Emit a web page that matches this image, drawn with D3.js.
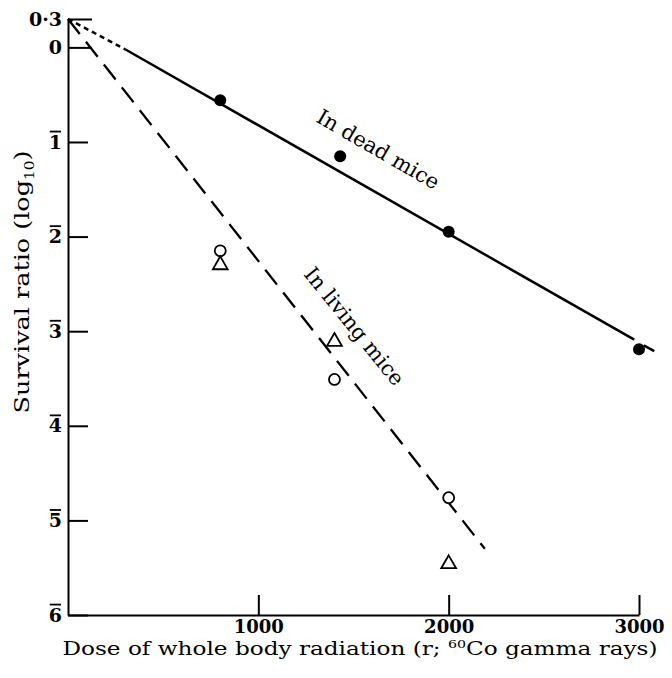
<!DOCTYPE html>
<html>
<head>
<meta charset="utf-8">
<script src="https://cdn.jsdelivr.net/npm/d3@7"></script>
<style>
  body { margin: 0; background: #fff; }
  text { font-family: "DejaVu Serif", "Liberation Serif", serif; fill: #000; }
</style>
</head>
<body>
<script>
// values (log10 survival ratio, bar notation: 1̄ = -1)
var deadDose = [800, 1430, 2000, 3000];
var deadLog = [-0.56, -1.15, -1.95, -3.19];

var livingDose = [800, 1400, 2000];
var livingCircle = [-2.15, -3.51, -4.76];
var livingTriangle = [-2.30, -3.11, -5.46];

// fitted lines (dose, log value)
var deadDotted = [[0, 0.3], [300, -0.02]];
var deadSolid = [[300, -0.02], [2975, -3.09]];
var deadTail = [[3025, -3.15], [3080, -3.21]];
var livingLine = [[0, 0.3], [2190, -5.30]];

var xTicks = [1000, 2000, 3000];
var yTicks = [0.3, 0, -1, -2, -3, -4, -5, -6];

let w = 672;
let h = 678;

var svg = d3.select("body")
  .append("svg")
  .attr("width", w)
  .attr("height", h);

let xScale = d3.scaleLinear()
  .domain([0, 3000])
  .range([68, 639]);

let yScale = d3.scaleLinear()
  .domain([-6, 0.3])
  .range([615, 19]);

let line = d3.line()
  .x(function(d) { return xScale(d[0]); })
  .y(function(d) { return yScale(d[1]); });

// axes
let yAxis = d3.axisLeft(yScale)
  .tickValues(yTicks)
  .tickSizeInner(-20)
  .tickSizeOuter(0)
  .tickPadding(6)
  .tickFormat(function(d) {
    if (d === 0.3) return "0·3";
    if (d === 0) return "0";
    return String(-d);
  });

let xAxis = d3.axisBottom(xScale)
  .tickValues(xTicks)
  .tickSizeInner(-20)
  .tickSizeOuter(0)
  .tickPadding(5)
  .tickFormat(d3.format("d"));

var gy = svg.append("g")
  .attr("transform", "translate(68,0)")
  .call(yAxis);

var gx = svg.append("g")
  .attr("transform", "translate(0,615)")
  .call(xAxis);

[gx, gy].forEach(function(g) {
  g.select(".domain").attr("stroke", "#000").attr("stroke-width", 2);
  g.selectAll(".tick line").attr("stroke", "#000").attr("stroke-width", 2);
  g.selectAll(".tick text")
    .attr("font-family", "DejaVu Serif")
    .attr("font-weight", "bold")
    .attr("fill", "#000");
});
gx.selectAll(".tick text").attr("font-size", "18px");
gy.selectAll(".tick text").attr("font-size", "19px");

// longer ticks at 0·3 and 0
gy.selectAll(".tick line")
  .filter(function(d) { return d >= 0; })
  .attr("x2", 24);

// bar over the negative characteristics
gy.selectAll(".tick").each(function(d) {
  if (d >= 0) return;
  var t = d3.select(this).select("text").node().getBBox();
  d3.select(this).append("line")
    .attr("x1", t.x + 1)
    .attr("x2", t.x + t.width - 1)
    .attr("y1", t.y + 1)
    .attr("y2", t.y + 1)
    .attr("stroke", "#000")
    .attr("stroke-width", 1.8);
});

// axis titles
svg.append("text")
  .attr("x", 360)
  .attr("y", 655)
  .attr("text-anchor", "middle")
  .attr("font-size", "18px")
  .attr("textLength", 595)
  .attr("lengthAdjust", "spacingAndGlyphs")
  .call(function(t) {
    t.append("tspan").text("Dose of whole body radiation (r; ");
    t.append("tspan").attr("font-size", "11px").attr("dy", -7).text("60");
    t.append("tspan").attr("dy", 7).text("Co gamma rays)");
  });

svg.append("text")
  .attr("transform", "translate(29,282) rotate(-90)")
  .attr("text-anchor", "middle")
  .attr("font-size", "20px")
  .attr("textLength", 263)
  .attr("lengthAdjust", "spacingAndGlyphs")
  .call(function(t) {
    t.append("tspan").text("Survival ratio (log");
    t.append("tspan").attr("font-size", "12px").attr("dy", 5).text("10");
    t.append("tspan").attr("dy", -5).text(")");
  });

// lines
svg.append("path")
  .attr("d", line(deadDotted))
  .attr("fill", "none")
  .attr("stroke", "#000")
  .attr("stroke-width", 2.5)
  .attr("stroke-dasharray", "5,4");

svg.append("path")
  .attr("d", line(deadSolid))
  .attr("fill", "none")
  .attr("stroke", "#000")
  .attr("stroke-width", 2.5);

svg.append("path")
  .attr("d", line(deadTail))
  .attr("fill", "none")
  .attr("stroke", "#000")
  .attr("stroke-width", 2.5);

svg.append("path")
  .attr("d", line(livingLine))
  .attr("fill", "none")
  .attr("stroke", "#000")
  .attr("stroke-width", 2.3)
  .attr("stroke-dasharray", "19,10");

// points: dead mice (filled circles)
svg.selectAll("circle.dead")
  .data(deadDose)
  .enter()
  .append("circle")
  .attr("class", "dead")
  .attr("cx", function(d) { return xScale(d); })
  .attr("cy", function(d, i) { return yScale(deadLog[i]); })
  .attr("r", 6)
  .attr("fill", "#000");

// living mice: open circles
svg.selectAll("circle.living")
  .data(livingDose)
  .enter()
  .append("circle")
  .attr("class", "living")
  .attr("cx", function(d) { return xScale(d); })
  .attr("cy", function(d, i) { return yScale(livingCircle[i]); })
  .attr("r", 5.5)
  .attr("fill", "#fff")
  .attr("stroke", "#000")
  .attr("stroke-width", 1.8);

// living mice: open triangles
svg.selectAll("path.tri")
  .data(livingDose)
  .enter()
  .append("path")
  .attr("class", "tri")
  .attr("d", d3.symbol().type(d3.symbolTriangle).size(95))
  .attr("transform", function(d, i) {
    return "translate(" + xScale(d) + "," + yScale(livingTriangle[i]) + ")";
  })
  .attr("fill", "#fff")
  .attr("stroke", "#000")
  .attr("stroke-width", 1.8);

// line labels
svg.append("text")
  .attr("transform", "translate(" + xScale(1629) + "," + yScale(-1.08) + ") rotate(30)")
  .attr("text-anchor", "middle")
  .attr("dominant-baseline", "central")
  .attr("font-size", "21px")
  .text("In dead mice");

svg.append("text")
  .attr("transform", "translate(" + xScale(1503) + "," + yScale(-2.95) + ") rotate(51)")
  .attr("text-anchor", "middle")
  .attr("dominant-baseline", "central")
  .attr("font-size", "21px")
  .text("In living mice");
</script>
</body>
</html>
